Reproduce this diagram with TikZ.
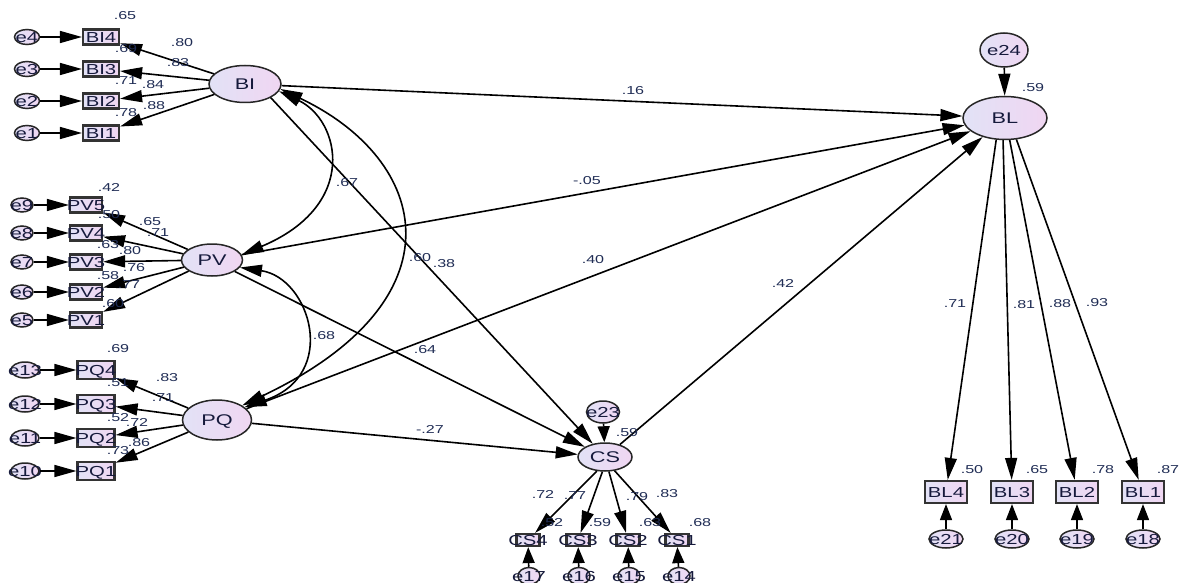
\documentclass[tikz,border=0pt]{standalone}
\usepackage{fontspec}
\setmainfont{Liberation Sans}[FakeStretch=1.4]
\usetikzlibrary{shapes.geometric,arrows.meta}
\definecolor{fillL}{RGB}{226,226,246}
\definecolor{fillR}{RGB}{240,214,242}
\definecolor{txt}{RGB}{22,26,60}
\definecolor{lab}{RGB}{32,45,85}
\newcommand{\ovt}[1]{\makebox[0pt]{\raisebox{-0.36em}[0pt][0pt]{#1}}}
\tikzset{
  lat/.style={ellipse, draw=black!85, line width=1.5pt, left color=fillL, right color=fillR, inner sep=0pt, font=\fontsize{15.5}{17}\selectfont, text=txt},
  err/.style={ellipse, draw=black!85, line width=1.5pt, left color=fillL, right color=fillR, inner sep=0pt, font=\fontsize{14.5}{16}\selectfont, text=txt},
  ind/.style={rectangle, draw=black!80, line width=2.2pt, left color=fillL, right color=fillR, inner sep=0pt, font=\fontsize{14.5}{16}\selectfont, text=txt},
  coef/.style={font=\fontsize{11.5}{12}\selectfont, text=lab, inner sep=0pt},
  arr/.style={-{Triangle[length=22pt,width=12pt]}, line width=1.6pt},
  sarr/.style={-{Triangle[length=16pt,width=12pt]}, line width=1.6pt},
  darr/.style={{Triangle[length=22pt,width=12pt]}-{Triangle[length=22pt,width=12pt]}, line width=1.6pt}
}
\begin{document}
\begin{tikzpicture}[x=1pt,y=-1pt]
\fill[white] (0,0) rectangle (1184,583);
\useasboundingbox (0,0) rectangle (1184,583);

% ---------- latent variables ----------
\node[lat, minimum width=72pt, minimum height=37pt] (BI) at (245,84) {\ovt{BI}};
\node[lat, minimum width=61pt, minimum height=32pt] (PV) at (212,260) {\ovt{PV}};
\node[lat, minimum width=69pt, minimum height=40pt] (PQ) at (217,420) {\ovt{PQ}};
\node[lat, minimum width=54pt, minimum height=28pt] (CS) at (605,457) {\ovt{CS}};
\node[lat, minimum width=84pt, minimum height=43pt] (BL) at (1005,118) {\ovt{BL}};
\node[err, minimum width=33pt, minimum height=22pt] (e23) at (603,412) {\ovt{e23}};
\node[err, minimum width=48pt, minimum height=34pt] (e24) at (1004,50) {\ovt{e24}};

% ---------- BI indicators ----------
\node[err, minimum width=25pt, minimum height=15pt] (e4) at (27,37) {\ovt{e4}};
\node[err, minimum width=25pt, minimum height=15pt] (e3) at (27,69) {\ovt{e3}};
\node[err, minimum width=25pt, minimum height=15pt] (e2) at (27,101) {\ovt{e2}};
\node[err, minimum width=25pt, minimum height=15pt] (e1) at (27,133) {\ovt{e1}};
\node[ind, minimum width=36pt, minimum height=15pt] (BI4) at (101,37) {\ovt{BI4}};
\node[ind, minimum width=36pt, minimum height=15pt] (BI3) at (101,69) {\ovt{BI3}};
\node[ind, minimum width=36pt, minimum height=15pt] (BI2) at (101,101) {\ovt{BI2}};
\node[ind, minimum width=36pt, minimum height=15pt] (BI1) at (101,133) {\ovt{BI1}};

% ---------- PV indicators ----------
\node[err, minimum width=22pt, minimum height=14pt] (e9) at (22,205) {\ovt{e9}};
\node[err, minimum width=22pt, minimum height=14pt] (e8) at (22,233) {\ovt{e8}};
\node[err, minimum width=22pt, minimum height=14pt] (e7) at (22,262) {\ovt{e7}};
\node[err, minimum width=22pt, minimum height=14pt] (e6) at (22,292) {\ovt{e6}};
\node[err, minimum width=22pt, minimum height=14pt] (e5) at (22,320) {\ovt{e5}};
\node[ind, minimum width=32pt, minimum height=15pt] (PV5) at (86,205) {\ovt{PV5}};
\node[ind, minimum width=32pt, minimum height=15pt] (PV4) at (86,233) {\ovt{PV4}};
\node[ind, minimum width=32pt, minimum height=15pt] (PV3) at (86,262) {\ovt{PV3}};
\node[ind, minimum width=32pt, minimum height=15pt] (PV2) at (86,292) {\ovt{PV2}};
\node[ind, minimum width=32pt, minimum height=15pt] (PV1) at (86,320) {\ovt{PV1}};

% ---------- PQ indicators ----------
\node[err, minimum width=28pt, minimum height=16pt] (e13) at (25,370) {\ovt{e13}};
\node[err, minimum width=28pt, minimum height=16pt] (e12) at (25,404) {\ovt{e12}};
\node[err, minimum width=28pt, minimum height=16pt] (e11) at (25,438) {\ovt{e11}};
\node[err, minimum width=28pt, minimum height=16pt] (e10) at (25,471) {\ovt{e10}};
\node[ind, minimum width=37pt, minimum height=18pt] (PQ4) at (96,370) {\ovt{PQ4}};
\node[ind, minimum width=37pt, minimum height=18pt] (PQ3) at (96,404) {\ovt{PQ3}};
\node[ind, minimum width=37pt, minimum height=18pt] (PQ2) at (96,438) {\ovt{PQ2}};
\node[ind, minimum width=37pt, minimum height=18pt] (PQ1) at (96,471) {\ovt{PQ1}};

% ---------- CS indicators ----------
\node[ind, minimum width=23pt, minimum height=12pt] (CS4) at (528,540) {\ovt{CS4}};
\node[ind, minimum width=23pt, minimum height=12pt] (CS3) at (578,540) {\ovt{CS3}};
\node[ind, minimum width=23pt, minimum height=12pt] (CS2) at (628,540) {\ovt{CS2}};
\node[ind, minimum width=23pt, minimum height=12pt] (CS1) at (677,540) {\ovt{CS1}};
\node[err, minimum width=22pt, minimum height=17pt] (e17) at (529,576) {\ovt{e17}};
\node[err, minimum width=22pt, minimum height=17pt] (e16) at (579,576) {\ovt{e16}};
\node[err, minimum width=22pt, minimum height=17pt] (e15) at (629,576) {\ovt{e15}};
\node[err, minimum width=22pt, minimum height=17pt] (e14) at (679,576) {\ovt{e14}};

% ---------- BL indicators ----------
\node[ind, minimum width=42pt, minimum height=22pt] (BL4) at (946,492) {\ovt{BL4}};
\node[ind, minimum width=42pt, minimum height=22pt] (BL3) at (1012,492) {\ovt{BL3}};
\node[ind, minimum width=42pt, minimum height=22pt] (BL2) at (1077,492) {\ovt{BL2}};
\node[ind, minimum width=42pt, minimum height=22pt] (BL1) at (1143,492) {\ovt{BL1}};
\node[err, minimum width=34pt, minimum height=18pt] (e21) at (946,539) {\ovt{e21}};
\node[err, minimum width=34pt, minimum height=18pt] (e20) at (1012,539) {\ovt{e20}};
\node[err, minimum width=34pt, minimum height=18pt] (e19) at (1077,539) {\ovt{e19}};
\node[err, minimum width=34pt, minimum height=18pt] (e18) at (1143,539) {\ovt{e18}};

% ---------- measurement paths ----------
\draw[arr] (BI) -- (BI4);
\draw[arr] (BI) -- (BI3);
\draw[arr] (BI) -- (BI2);
\draw[arr] (BI) -- (BI1);
\draw[arr] (e4) -- (BI4);
\draw[arr] (e3) -- (BI3);
\draw[arr] (e2) -- (BI2);
\draw[arr] (e1) -- (BI1);

\draw[arr] (PV) -- (PV5);
\draw[arr] (PV) -- (PV4);
\draw[arr] (PV) -- (PV3);
\draw[arr] (PV) -- (PV2);
\draw[arr] (PV) -- (PV1);
\draw[arr] (e9) -- (PV5);
\draw[arr] (e8) -- (PV4);
\draw[arr] (e7) -- (PV3);
\draw[arr] (e6) -- (PV2);
\draw[arr] (e5) -- (PV1);

\draw[arr] (PQ) -- (PQ4);
\draw[arr] (PQ) -- (PQ3);
\draw[arr] (PQ) -- (PQ2);
\draw[arr] (PQ) -- (PQ1);
\draw[arr] (e13) -- (PQ4);
\draw[arr] (e12) -- (PQ3);
\draw[arr] (e11) -- (PQ2);
\draw[arr] (e10) -- (PQ1);

\draw[arr] (CS.-120) -- (CS4);
\draw[arr] (CS.-100) -- (CS3);
\draw[arr] (CS.-75) -- (CS2);
\draw[arr] (CS.-55) -- (CS1);
\draw[sarr] (e17) -- (CS4);
\draw[sarr] (e16) -- (CS3);
\draw[sarr] (e15) -- (CS2);
\draw[sarr] (e14) -- (CS1);

\draw[arr] (BL.-112) -- (BL4);
\draw[arr] (BL.-95) -- (BL3);
\draw[arr] (BL.-78) -- (BL2);
\draw[arr] (BL.-62) -- (BL1);
\draw[sarr] (e21) -- (BL4);
\draw[sarr] (e20) -- (BL3);
\draw[sarr] (e19) -- (BL2);
\draw[sarr] (e18) -- (BL1);

% ---------- structural paths ----------
\draw[arr] (BI) -- (BL);
\draw[arr] (PV) -- (BL);
\draw[arr] (PQ) -- (BL);
\draw[arr] (BI.-28) -- (CS);
\draw[arr] (PV) -- (CS);
\draw[arr] (PQ) -- (CS);
\draw[arr] (CS.40) -- (BL);
\draw[sarr] (e23) -- (CS);
\draw[arr] (e24) -- (BL);

% ---------- covariances ----------
\draw[darr] (BI.-12) .. controls (340,120) and (360,205) .. (PV.10);
\draw[darr] (BI.-8) .. controls (430,160) and (465,300) .. (PQ.30);
\draw[darr] (PV.-15) .. controls (310,278) and (340,375) .. (PQ.25);

% ---------- coefficients ----------
\node[coef] (r1) at (125,16) {.65};
\node[coef] (l1) at (182,43) {.80};
\node[coef] (r2) at (126,49) {.69};
\node[coef] (l2) at (178,63) {.83};
\node[coef] (r3) at (126,81) {.71};
\node[coef] (l3) at (153,85) {.84};
\node[coef] (r4) at (126,113) {.78};
\node[coef] (l4) at (154,106) {.88};

\node[coef] (r5) at (109,187) {.42};
\node[coef] (r6) at (109,215) {.50};
\node[coef] (l5) at (150,222) {.65};
\node[coef] (l6) at (158,233) {.71};
\node[coef] (r7) at (108,245) {.63};
\node[coef] (l7) at (130,251) {.80};
\node[coef] (r8) at (108,276) {.58};
\node[coef] (l8) at (134,268) {.76};
\node[coef] (l9) at (129,285) {.77};
\node[coef] (r9) at (113,304) {.60};

\node[coef] (r10) at (118,349) {.69};
\node[coef] (l10) at (167,378) {.83};
\node[coef] (r11) at (118,383) {.51};
\node[coef] (l11) at (163,398) {.71};
\node[coef] (r12) at (118,418) {.52};
\node[coef] (l12) at (137,422) {.72};
\node[coef] (l13) at (139,443) {.86};
\node[coef] (r13) at (118,451) {.73};

\node[coef] (rcs) at (627,433) {.59};
\node[coef] (l14) at (543,494) {.72};
\node[coef] (l15) at (575,496) {.77};
\node[coef] (l16) at (637,497) {.79};
\node[coef] (l17) at (667,494) {.83};
\node[coef] (r14) at (552,523) {.52};
\node[coef] (r15) at (600,523) {.59};
\node[coef] (r16) at (650,523) {.63};
\node[coef] (r17) at (700,523) {.68};

\node[coef] (rbl) at (1033,88) {.59};
\node[coef] (l18) at (955,304) {.71};
\node[coef] (l19) at (1024,305) {.81};
\node[coef] (l20) at (1060,304) {.88};
\node[coef] (l21) at (1097,303) {.93};
\node[coef] (r18) at (972,470) {.50};
\node[coef] (r19) at (1037,470) {.65};
\node[coef] (r20) at (1103,470) {.78};
\node[coef] (r21) at (1168,470) {.87};

\node[coef] (s1) at (633,91) {.16};
\node[coef] (s2) at (587,181) {-.05};
\node[coef] (s3) at (347,183) {.67};
\node[coef] (s4) at (420,258) {.60};
\node[coef] (s5) at (444,264) {.38};
\node[coef] (s6) at (593,260) {.40};
\node[coef] (s7) at (324,336) {.68};
\node[coef] (s8) at (425,350) {.64};
\node[coef] (s9) at (430,429) {-.27};
\node[coef] (s10) at (783,283) {.42};
\end{tikzpicture}
\end{document}
